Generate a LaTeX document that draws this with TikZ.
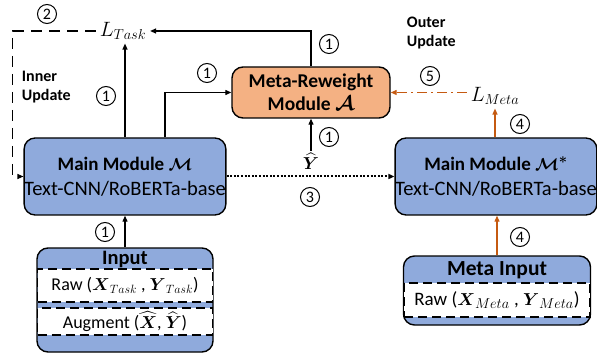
\documentclass[tikz,border=0pt]{standalone}
\usepackage{amsmath}
\usepackage{fontspec}
\setmainfont{Carlito}
\usetikzlibrary{arrows.meta}
\definecolor{modblue}{HTML}{8FAADC}
\definecolor{modorange}{HTML}{F4B183}
\definecolor{metaline}{HTML}{C55A11}
\tikzstyle{module} = [draw, line width=1.4pt, rounded corners=11pt, fill=modblue, align=center, inner sep=0pt, font=\fontsize{20.5}{25}\selectfont]
\tikzstyle{slot} = [draw, dashed, line width=1.4pt, fill=white, inner sep=0pt, dash pattern=on 9pt off 5pt, font=\fontsize{18}{20}\selectfont]
\tikzstyle{title} = [font=\bfseries\fontsize{20.5}{22}\selectfont]
\tikzstyle{num} = [circle, draw, line width=1pt, inner sep=0pt, minimum size=19pt, font=\fontsize{16}{16}\selectfont]
\tikzstyle{note} = [font=\bfseries\fontsize{16}{19}\selectfont, align=left, anchor=north west]
\tikzstyle{loss} = [font=\fontsize{21}{22}\selectfont]
\tikzset{>={Triangle[length=6pt,width=5pt]}}

\begin{document}
\begin{tikzpicture}[x=1pt,y=-1pt,line width=1.2pt]
    \useasboundingbox (0,0) rectangle (597,358);
    \node[module, minimum width=200pt, minimum height=77pt] (M) at (125,176.5) {\textbf{\fontsize{19}{25}\selectfont Main Module $\boldsymbol{\mathcal{M}}$}\\Text-CNN/RoBERTa-base};
    \node[module, minimum width=198pt, minimum height=77pt] (Ms) at (496,176.5) {\textbf{\fontsize{19}{25}\selectfont Main Module $\boldsymbol{\mathcal{M}^*}$}\\Text-CNN/RoBERTa-base};
    \node[module, fill=modorange, minimum width=158pt, minimum height=51pt, font=\bfseries\fontsize{19.5}{23}\selectfont] (A) at (311,92.5) {Meta-Reweight\\Module $\boldsymbol{\mathcal{A}}$};
    \node[module, minimum width=176pt, minimum height=104pt] (In) at (125,300) {};
    \node[title] (InT) at (125,259) {Input};
    \node[slot, minimum width=175pt, minimum height=33pt] (Raw) at (125,285.5) {Raw ($\boldsymbol{X}_{Task}$ , $\boldsymbol{Y}_{Task}$)};
    \node[slot, minimum width=175pt, minimum height=27pt] (Aug) at (125,321.5) {Augment ($\widehat{\boldsymbol{X}}$, $\widehat{\boldsymbol{Y}}$)};
    \node[module, minimum width=187pt, minimum height=69pt] (MI) at (497,290.5) {};
    \node[title, font=\bfseries\fontsize{21.5}{22}\selectfont] (MIT) at (497,270) {Meta Input};
    \node[slot, minimum width=186pt, minimum height=34pt, font=\fontsize{19}{20}\selectfont] (MRaw) at (497,300) {Raw ($\boldsymbol{X}_{Meta}$ , $\boldsymbol{Y}_{Meta}$)};
    \node[loss] (LT) at (123,31) {$L_{Task}$};
    \node[loss] (LM) at (495,96) {$L_{Meta}$};
    \node[loss, font=\fontsize{17}{18}\selectfont, inner sep=1pt] (Yh) at (311,161) {$\widehat{\boldsymbol{Y}}$};
    \node[note] (inner) at (18,67) {Inner\\Update};
    \node[note] (outer) at (403,13) {Outer\\Update};
    \node[num] (n2) at (47,14) {2};
    \node[num] (n1a) at (106,96) {1};
    \node[num] (n1b) at (207,73) {1};
    \node[num] (n1c) at (329,44) {1};
    \node[num] (n1d) at (329,137) {1};
    \node[num] (n1e) at (105,232) {1};
    \node[num] (n3) at (310,197) {3};
    \node[num] (n5) at (430,76) {5};
    \node[num] (n4a) at (520,124) {4};
    \node[num] (n4b) at (520,237) {4};
    \draw[->] (M.north) -- (M.north |- LT.south);
    \draw[->] (A.north) |- (LT.east);
    \draw[->, dash pattern=on 11pt off 7pt] (LT.west) -- ++(-83,0) |- (M.west);
    \draw[->] ([xshift=40pt]M.north) |- (A.west);
    \draw[->] (Yh) -- (A.south);
    \draw[->, dash pattern=on 2pt off 1.6pt, line width=2pt] (M.east) -- (Ms.west);
    \draw[->] (In.north) -- (M.south);
    \draw[->, metaline] (MI.north) -- (MI.north |- Ms.south);
    \draw[->, metaline] (Ms.north -| LM.south) -- (LM.south);
    \draw[->, metaline, dash pattern=on 10pt off 4pt on 2pt off 4pt] (LM.west |- A.east) -- (A.east);
\end{tikzpicture}
\end{document}
